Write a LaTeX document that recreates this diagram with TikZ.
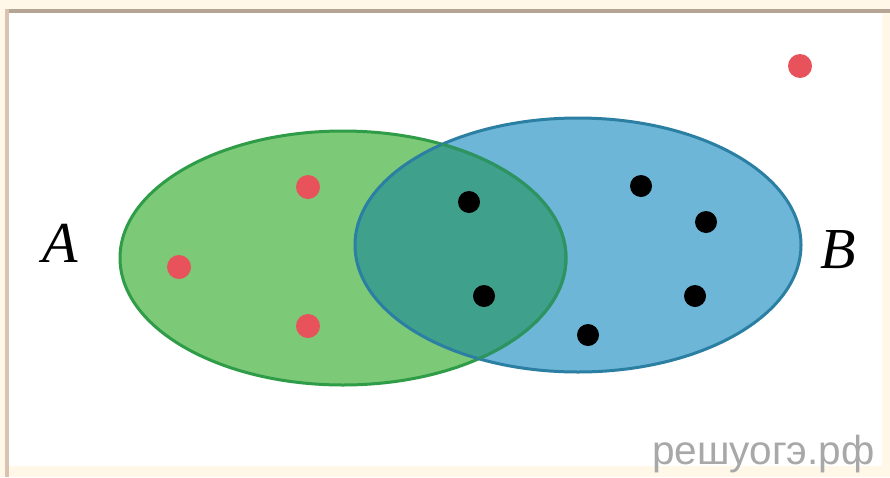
\documentclass[tikz,border=0pt]{standalone}
\usepackage{fontspec}
\setmainfont{Liberation Serif}
\newfontfamily\wmfont{Liberation Sans}
\definecolor{cream}{HTML}{FFF8E9}
\definecolor{topline}{HTML}{B5A595}
\definecolor{leftline}{HTML}{D9C2B2}
\definecolor{gfill}{HTML}{7CC978}
\definecolor{gline}{HTML}{2F9C48}
\definecolor{bfill}{HTML}{6DB6D8}
\definecolor{bline}{HTML}{2A7FA2}
\definecolor{ofill}{HTML}{3FA08C}
\definecolor{reddot}{HTML}{E8525A}
\definecolor{wmgray}{HTML}{A8A8A8}
\tikzset{
  reddotstyle/.style={circle,fill=reddot,inner sep=0pt,minimum size=24pt},
  blackdotstyle/.style={circle,fill=black,inner sep=0pt,minimum size=22pt},
  setlabel/.style={font=\fontsize{58}{60}\selectfont\itshape,inner sep=0pt}
}
\begin{document}
\begin{tikzpicture}[x=1pt,y=-1pt]
\useasboundingbox (0,0) rectangle (890,477);
\fill[cream] (0,0) rectangle (890,477);
\fill[white] (8,11) rectangle (882,466);
\fill[topline] (8,9) rectangle (890,12.5);
\fill[leftline] (5,9) rectangle (9,477);
% ellipses
\fill[gfill] (343,258) ellipse [x radius=223,y radius=127];
\fill[bfill] (578,245) ellipse [x radius=223,y radius=127];
\begin{scope}
  \clip (343,258) ellipse [x radius=223,y radius=127];
  \fill[ofill] (578,245) ellipse [x radius=223,y radius=127];
\end{scope}
\draw[gline,line width=3pt] (343,258) ellipse [x radius=223,y radius=127];
\draw[bline,line width=3pt] (578,245) ellipse [x radius=223,y radius=127];
\begin{scope}
  \clip (578,245) ellipse [x radius=223,y radius=127];
  \draw[gline!70!bline,line width=3pt] (343,258) ellipse [x radius=223,y radius=127];
\end{scope}
% labels
\node[setlabel] (la) at (60,243) {A};
\node[setlabel] (lb) at (838,250) {B};
% dots
\node[reddotstyle] (r1) at (800,66) {};
\node[reddotstyle] (r2) at (308,187) {};
\node[reddotstyle] (r3) at (179,267) {};
\node[reddotstyle] (r4) at (308,326) {};
\node[blackdotstyle] (k1) at (469,202) {};
\node[blackdotstyle] (k2) at (484,296) {};
\node[blackdotstyle] (k3) at (641,186) {};
\node[blackdotstyle] (k4) at (706,222) {};
\node[blackdotstyle] (k5) at (695,296) {};
\node[blackdotstyle] (k6) at (588,335) {};
% watermark
\node[font=\wmfont\fontsize{40.5}{42}\selectfont,text=wmgray,inner sep=0pt,anchor=base west] (wm) at (652,464) {решуогэ.рф};
\end{tikzpicture}
\end{document}
